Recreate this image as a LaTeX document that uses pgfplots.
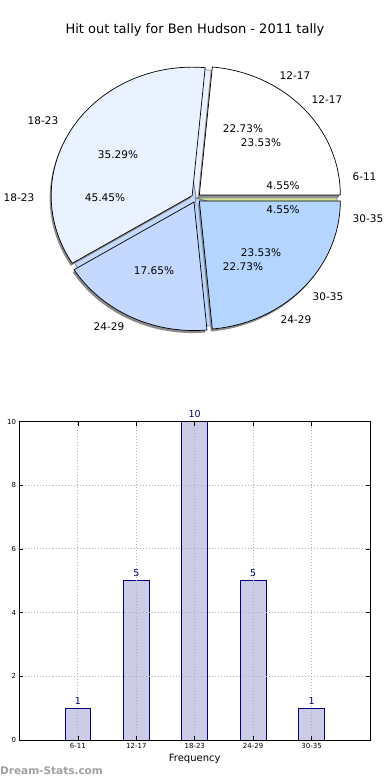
\documentclass[border=0pt]{standalone}
\usepackage{pgfplots}
\pgfplotsset{compat=1.18}
\usepackage{fontspec}
\setmainfont{DejaVu Sans}
\definecolor{sB1}{HTML}{FFFFFF}
\definecolor{sB2}{HTML}{EAF1FF}
\definecolor{sB3}{HTML}{C5D8FF}
\definecolor{sB4}{HTML}{B3D5FF}
\definecolor{sA1}{HTML}{D6D6D6}
\definecolor{sA5}{HTML}{D2E890}
\definecolor{barfill}{HTML}{CCCCE6}
\definecolor{barnavy}{HTML}{000080}
\definecolor{wm}{HTML}{A0A0A0}
\definecolor{shad}{HTML}{8A8A8A}
% #1 start value, #2 end value, #3 total, #4 style, #5 explode, #6/#7 shift
\newcommand{\pieslice}[7]{%
  \addplot[#4, line width=0.7pt, domain=360*#1/#3:360*#2/#3, samples=90, variable=\t]
   ({196+#6+#5*cos(180*(#1+#2)/#3)+141*cos(\t)},{-198+#7+#5*sin(180*(#1+#2)/#3)+128.5*sin(\t)})
   -- (axis cs:{196+#6+#5*cos(180*(#1+#2)/#3)},{-198+#7+#5*sin(180*(#1+#2)/#3)}) -- cycle;
}
\newcommand{\pl}{\fontsize{10.5}{12}\selectfont}
\begin{document}
\begin{tikzpicture}
\path[use as bounding box] (0,0) rectangle (390pt,-780pt);
\begin{axis}[at={(0pt,0pt)}, anchor=north west, x=1pt, y=1pt,
  xmin=0, xmax=390, ymin=-390, ymax=0, hide axis, clip=false]
% pie A: 6-11:1, 12-17:5, 18-23:10, 24-29:5, 30-35:1 (of 22)
\pieslice{0}{1}{22}{draw=gray, fill=sA1}{0}{0}{0}
\pieslice{1}{6}{22}{draw=gray, fill=sB2}{0}{0}{0}
\pieslice{6}{16}{22}{draw=gray, fill=sB3}{0}{0}{0}
\pieslice{16}{21}{22}{draw=gray, fill=sB4}{0}{0}{0}
\pieslice{21}{22}{22}{draw=gray, fill=sA5}{0}{0}{0}
% pie B shadows: 12-17:4, 18-23:6, 24-29:3, 30-35:4 (of 17)
\pieslice{0}{4}{17}{draw=none, fill=shad}{4.5}{-1.5}{-2.5}
\pieslice{4}{10}{17}{draw=none, fill=shad}{4.5}{-1.5}{-2.5}
\pieslice{10}{13}{17}{draw=none, fill=shad}{4.5}{-1.5}{-2.5}
\pieslice{13}{17}{17}{draw=none, fill=shad}{4.5}{-1.5}{-2.5}
% pie B
\pieslice{0}{4}{17}{draw=black, fill=sB1}{4.5}{0}{0}
\pieslice{4}{10}{17}{draw=black, fill=sB2}{4.5}{0}{0}
\pieslice{10}{13}{17}{draw=black, fill=sB3}{4.5}{0}{0}
\pieslice{13}{17}{17}{draw=black, fill=sB4}{4.5}{0}{0}
% labels
\node[font=\pl] at (axis cs:295,-76) {12-17};
\node[font=\pl] at (axis cs:327,-100) {12-17};
\node[font=\pl] at (axis cs:43,-121) {18-23};
\node[font=\pl] at (axis cs:19,-198) {18-23};
\node[font=\pl] at (axis cs:364.5,-177) {6-11};
\node[font=\pl] at (axis cs:368,-219) {30-35};
\node[font=\pl] at (axis cs:328,-297) {30-35};
\node[font=\pl] at (axis cs:109,-327) {24-29};
\node[font=\pl] at (axis cs:296,-320) {24-29};
\node[font=\pl] at (axis cs:243,-129) {22.73\%};
\node[font=\pl] at (axis cs:261,-143) {23.53\%};
\node[font=\pl] at (axis cs:118,-155) {35.29\%};
\node[font=\pl] at (axis cs:105,-198) {45.45\%};
\node[font=\pl] at (axis cs:283,-186) {4.55\%};
\node[font=\pl] at (axis cs:283,-210) {4.55\%};
\node[font=\pl] at (axis cs:261,-253) {23.53\%};
\node[font=\pl] at (axis cs:243,-267) {22.73\%};
\node[font=\pl] at (axis cs:154,-271) {17.65\%};
\node[font=\fontsize{13}{15}\selectfont] at (axis cs:195,-30) {Hit out tally for Ben Hudson - 2011 tally};
\end{axis}
\begin{axis}[at={(19.5pt,-740pt)}, anchor=south west, scale only axis,
  width=350.5pt, height=318.5pt,
  xmin=-1, xmax=5, ymin=0, ymax=10,
  xtick={0,1,2,3,4}, xticklabels={6-11,12-17,18-23,24-29,30-35},
  ytick={0,2,4,6,8,10},
  /pgf/number format/assume math mode=true,
  ticklabel style={font=\fontsize{7}{8}\selectfont},
  tick align=inside, tick pos=both, major tick length=4pt,
  tick style={black, line width=0.6pt},
  grid=major, major grid style={draw=gray!60, line width=0.9pt, dash pattern=on 1pt off 2pt},
  axis line style={line width=0.8pt},
  axis on top,
  xlabel={Frequency}, xlabel style={font=\fontsize{10}{12}\selectfont, at={(axis description cs:0.5,0)}, anchor=north, yshift=-11pt},
  ylabel={Hit out tally}, ylabel style={font=\fontsize{10}{12}\selectfont, at={(axis description cs:-0.047,0.5)}, anchor=south},
  clip=false]
\addplot[ybar, bar width=0.44, fill=barfill, draw=barnavy, line width=0.8pt,
  nodes near coords, nodes near coords style={font=\fontsize{9.5}{11}\selectfont, text=barnavy}]
  coordinates {(0,1) (1,5) (2,10) (3,5) (4,1)};
\end{axis}
\node[anchor=west, text=wm, font=\bfseries\fontsize{10.5}{12}\selectfont, inner sep=0pt] at (0pt,-771pt) {Dream-Stats.com};
\end{tikzpicture}
\end{document}
